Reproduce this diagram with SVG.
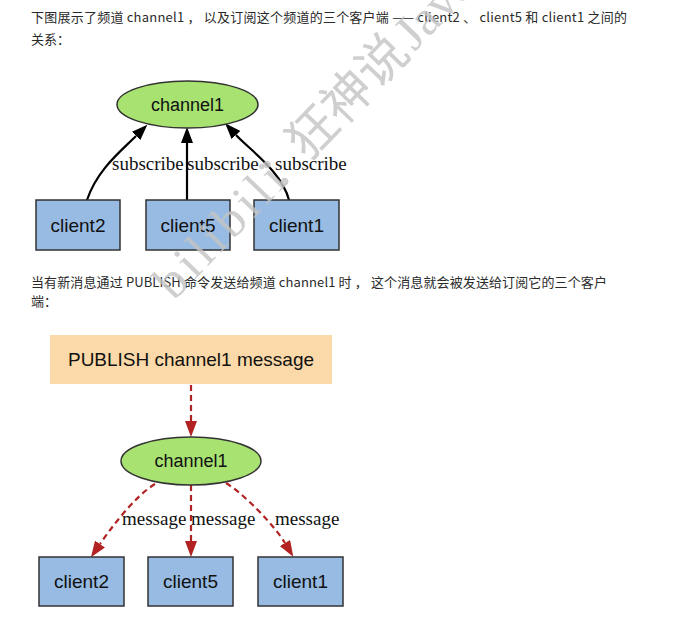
<svg xmlns="http://www.w3.org/2000/svg" width="696" height="644" viewBox="0 0 696 644">
<defs>
<style>
.para{font-family:"Noto Sans CJK SC","Noto Sans",sans-serif;font-size:13px;fill:#2a2a2a}
.node{font-family:"Liberation Sans",Arial,sans-serif;font-size:19px;fill:#111;text-anchor:middle}
.ch{font-size:18px}
.lbl{font-family:"Liberation Serif","Times New Roman",serif;font-size:19px;fill:#111}
.box{fill:#97bbe2;stroke:#333;stroke-width:1.5}
.ell{fill:#a8e271;stroke:#333;stroke-width:1.5}
.sub{fill:none;stroke:#000;stroke-width:2.2}
.msg{fill:none;stroke:#b22222;stroke-width:2.2;stroke-dasharray:6,4}
.wm{font-family:"Liberation Serif","Noto Sans CJK SC",serif;font-size:50px;fill:#c4c4c4;opacity:0.8}
</style>
<marker id="ab" markerUnits="userSpaceOnUse" markerWidth="16" markerHeight="12" refX="0" refY="6" orient="auto">
<path d="M0,0 L16,6 L0,12 z" fill="#000"/>
</marker>
<marker id="ar" markerUnits="userSpaceOnUse" markerWidth="16" markerHeight="12" refX="0" refY="6" orient="auto">
<path d="M0,0 L16,6 L0,12 z" fill="#b22222"/>
</marker>
</defs>
<rect width="696" height="644" fill="#fff"/>

<g id="paragraphs">
<text class="para" x="31" y="22" textLength="596" lengthAdjust="spacing">下图展示了频道 channel1 ， 以及订阅这个频道的三个客户端 —— client2 、 client5 和 client1 之间的</text>
<text class="para" x="31" y="44">关系：</text>
<text class="para" x="31" y="287" textLength="576" lengthAdjust="spacing">当有新消息通过 PUBLISH 命令发送给频道 channel1 时 ， 这个消息就会被发送给订阅它的三个客户</text>
<text class="para" x="31" y="306">端：</text>
</g>

<g id="connectors">
<path class="sub" d="M87,200 C97,170 120,152 136,136" marker-end="url(#ab)"/>
<path class="sub" d="M187,200 L187,143" marker-end="url(#ab)"/>
<path class="sub" d="M289,200 C282,172 250,150 236,135" marker-end="url(#ab)"/>
<text class="lbl" x="112" y="170">subscribe</text>
<text class="lbl" x="187" y="170">subscribe</text>
<text class="lbl" x="275" y="170">subscribe</text>

<path class="msg" d="M191,385 L191,421" marker-end="url(#ar)"/>
<path class="msg" d="M155,484 C135,496 111,528 100,544" marker-end="url(#ar)"/>
<path class="msg" d="M191,485 L191,541" marker-end="url(#ar)"/>
<path class="msg" d="M226,483 C248,497 276,528 285,543" marker-end="url(#ar)"/>
<text class="lbl" x="122" y="525">message</text>
<text class="lbl" x="191" y="525">message</text>
<text class="lbl" x="275" y="525">message</text>
</g>

<g id="channel1-top">
<ellipse class="ell" cx="187.5" cy="104.5" rx="70.5" ry="23.5"/>
<text class="node ch" x="187.5" y="110.5">channel1</text>
</g>
<g id="client2-top">
<rect class="box" x="36" y="200" width="84" height="50"/>
<text class="node" x="78" y="231.5">client2</text>
</g>
<g id="client5-top">
<rect class="box" x="146" y="200" width="84" height="50"/>
<text class="node" x="188" y="231.5">client5</text>
</g>
<g id="client1-top">
<rect class="box" x="254" y="200" width="85" height="50"/>
<text class="node" x="296.5" y="231.5">client1</text>
</g>

<g id="publish">
<rect x="50" y="335" width="282" height="49" fill="#fbd9a8"/>
<text class="node" x="191" y="366">PUBLISH channel1 message</text>
</g>
<g id="channel1-bottom">
<ellipse class="ell" cx="191" cy="461" rx="70" ry="24"/>
<text class="node ch" x="191" y="467">channel1</text>
</g>
<g id="client2-bottom">
<rect class="box" x="39" y="557" width="85" height="49"/>
<text class="node" x="81.5" y="588">client2</text>
</g>
<g id="client5-bottom">
<rect class="box" x="148" y="557" width="85" height="49"/>
<text class="node" x="190.5" y="588">client5</text>
</g>
<g id="client1-bottom">
<rect class="box" x="258" y="557" width="85" height="49"/>
<text class="node" x="300.5" y="588">client1</text>
</g>

<g id="watermark" transform="translate(182.6,292.2) rotate(-46)">
<text class="wm" x="-12.5" y="0" textLength="165" lengthAdjust="spacing">bilibili</text>
<text class="wm" x="163" y="0" text-anchor="middle">：</text>
<text class="wm" x="180" y="0">狂神说</text>
<text class="wm" x="334" y="0">Java</text>
</g>
</svg>
